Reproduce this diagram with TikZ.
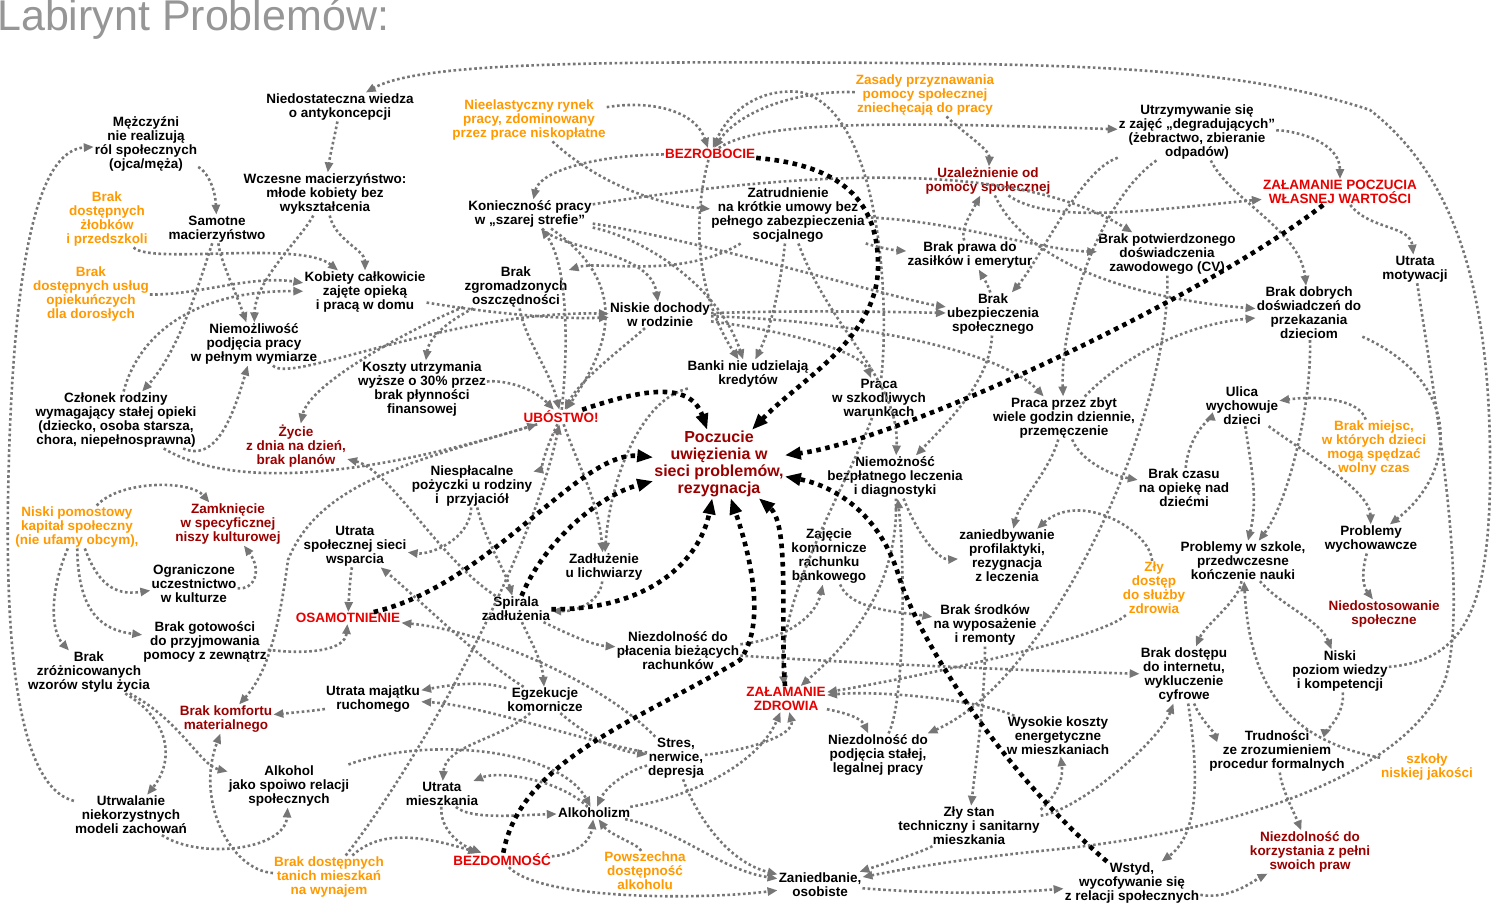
\documentclass[tikz,border=0pt]{standalone}
\usepackage{fontspec}
\setmainfont{Liberation Sans}
\usetikzlibrary{arrows.meta}
\definecolor{orng}{RGB}{255,153,0}
\definecolor{rd}{RGB}{230,0,0}
\definecolor{drd}{RGB}{153,0,0}
\definecolor{eg}{RGB}{118,118,118}
\definecolor{tg}{RGB}{150,150,150}
\begin{document}
\begin{tikzpicture}[x=1pt,y=-1pt,
  lb/.style={font=\bfseries\fontsize{13.5}{14}\selectfont, align=center, inner sep=1pt, text=black},
  lo/.style={lb,text=orng},
  lr/.style={lb,text=rd},
  ld/.style={lb,text=drd},
  ge/.style={draw=eg, line width=2.6pt, dash pattern=on 2.6pt off 2.6pt, -{Triangle[length=10pt,width=8pt]}},
  te/.style={draw=black, line width=4.6pt, dash pattern=on 4.6pt off 4.6pt, -{Triangle[length=16pt,width=12pt]}},
]
\useasboundingbox (0,0) rectangle (1508,923);
\node[anchor=base west, inner sep=0, text=tg, font=\fontsize{43}{46}\selectfont] (title) at (-3,31) {Labirynt Problemów:};

\node[lb] (antyk) at (340,107) {Niedostateczna wiedza\\o antykoncepcji};
\node[lb] (mezcz) at (146,144) {Mężczyźni\\nie realizują\\ról społecznych\\(ojca/męża)};
\node[lo] (nieelast) at (529,120) {Nieelastyczny rynek\\pracy, zdominowany\\przez prace niskopłatne};
\node[lo] (zasady) at (925,95) {Zasady przyznawania\\pomocy społecznej\\zniechęcają do pracy};
\node[lb] (utrzym) at (1197,132) {Utrzymywanie się\\z zajęć „degradujących”\\(żebractwo, zbieranie\\odpadów)};
\node[lr] (bezrob) at (710,154) {BEZROBOCIE};
\node[lb] (wczesne) at (325,194) {Wczesne macierzyństwo:\\młode kobiety bez\\wykształcenia};
\node[lo] (zlob) at (107,219) {Brak\\dostępnych\\żłobków\\i przedszkoli};
\node[lb] (samotne) at (217,229) {Samotne\\macierzyństwo};
\node[lb] (koniecz) at (530,214) {Konieczność pracy\\w „szarej strefie”};
\node[lb] (zatrud) at (788,215) {Zatrudnienie\\na krótkie umowy bez\\pełnego zabezpieczenia\\socjalnego};
\node[ld] (uzalez) at (988,181) {Uzależnienie od\\pomocy społecznej};
\node[lr] (zalpocz) at (1340,192) {ZAŁAMANIE POCZUCIA\\WŁASNEJ WARTOŚCI};
\node[lb] (brakcv) at (1167,254) {Brak potwierdzonego\\doświadczenia\\zawodowego (CV)};
\node[lb] (brakprawa) at (970,255) {Brak prawa do\\zasiłków i emerytur};
\node[lb] (utrmot) at (1415,269) {Utrata\\motywacji};
\node[lo] (brakusl) at (91,294) {Brak\\dostępnych usług\\opiekuńczych\\dla dorosłych};
\node[lb] (kobiety) at (365,292) {Kobiety całkowicie\\zajęte opieką\\i pracą w domu};
\node[lb] (brakzgr) at (516,287) {Brak\\zgromadzonych\\oszczędności};
\node[lb] (niskie) at (660,315) {Niskie dochody\\w rodzinie};
\node[lb] (brakubezp) at (993,314) {Brak\\ubezpieczenia\\społecznego};
\node[lb] (brakdobr) at (1309,313) {Brak dobrych\\doświadczeń do\\przekazania\\dzieciom};
\node[lb] (niemozl) at (254,344) {Niemożliwość\\podjęcia pracy\\w pełnym wymiarze};
\node[lb] (koszty) at (422,389) {Koszty utrzymania\\wyższe o 30\% przez\\brak płynności\\finansowej};
\node[lb] (banki) at (748,374) {Banki nie udzielają\\kredytów};
\node[lb] (prszk) at (879,398) {Praca\\w szkodliwych\\warunkach};
\node[lb] (pracazbyt) at (1064,418) {Praca przez zbyt\\wiele godzin dziennie,\\przemęczenie};
\node[lb] (czlonek) at (116,420) {Członek rodziny\\wymagający stałej opieki\\(dziecko, osoba starsza,\\chora, niepełnosprawna)};
\node[ld] (zycie) at (296,446) {Życie\\z dnia na dzień,\\brak planów};
\node[lr] (ubostwo) at (561,417) {UBÓSTWO!};
\node[ld, font=\bfseries\fontsize{16}{17}\selectfont] (poczucie) at (719,464) {Poczucie\\uwięzienia w\\sieci problemów,\\rezygnacja};
\node[lb] (ulica) at (1242,406) {Ulica\\wychowuje\\dzieci};
\node[lo] (brakmiejsc) at (1374,448) {Brak miejsc,\\w których dzieci\\mogą spędzać\\wolny czas};
\node[lb] (niesplac) at (472,486) {Niespłacalne\\pożyczki u rodziny\\i\ \ przyjaciół};
\node[lb] (niemozlecz) at (895,477) {Niemożność\\bezpłatnego leczenia\\i diagnostyki};
\node[lb] (brakczasu) at (1184,488) {Brak czasu\\na opiekę nad\\dziećmi};
\node[lo] (niskipom) at (77,527) {Niski pomostowy\\kapitał społeczny\\(nie ufamy obcym),};
\node[ld] (zamkn) at (228,524) {Zamknięcie\\w specyficznej\\niszy kulturowej};
\node[lb] (utrsieci) at (355,546) {Utrata\\społecznej sieci\\wsparcia};
\node[lb] (zadluz) at (604,567) {Zadłużenie\\u lichwiarzy};
\node[lb] (zajecie) at (829,556) {Zajęcie\\komornicze\\rachunku\\bankowego};
\node[lb] (zaniedb) at (1007,556) {zaniedbywanie\\profilaktyki,\\rezygnacja\\z leczenia};
\node[lo] (zlydost) at (1154,588) {Zły\\dostęp\\do służby\\zdrowia};
\node[lb] (problszk) at (1243,561) {Problemy w szkole,\\przedwczesne\\kończenie nauki};
\node[lb] (problwych) at (1371,539) {Problemy\\wychowawcze};
\node[lb] (ogr) at (194,584) {Ograniczone\\uczestnictwo\\w kulturze};
\node[lr] (osam) at (348,618) {OSAMOTNIENIE};
\node[lb] (spirala) at (516,609) {Spirala\\zadłużenia};
\node[ld] (niedost) at (1384,614) {Niedostosowanie\\społeczne};
\node[lb] (brakgot) at (205,642) {Brak gotowości\\do przyjmowania\\pomocy z zewnątrz};
\node[lb] (braksrod) at (985,625) {Brak środków\\na wyposażenie\\i remonty};
\node[lb] (niezdrach) at (678,651) {Niezdolność do\\płacenia bieżących\\rachunków};
\node[lb] (brakzroz) at (89,672) {Brak\\zróżnicowanych\\wzorów stylu życia};
\node[lb] (brakint) at (1184,675) {Brak dostępu\\do internetu,\\wykluczenie\\cyfrowe};
\node[lb] (niskipoz) at (1340,671) {Niski\\poziom wiedzy\\i kompetencji};
\node[lb] (utrmaj) at (373,699) {Utrata majątku\\ruchomego};
\node[lb] (egzek) at (545,700) {Egzekucje\\komornicze};
\node[lr] (zalzdr) at (786,699) {ZAŁAMANIE\\ZDROWIA};
\node[ld] (brakkomf) at (226,719) {Brak komfortu\\materialnego};
\node[lb] (wysokie) at (1058,736) {Wysokie koszty\\energetyczne\\w mieszkaniach};
\node[lb] (niezdpodj) at (878,755) {Niezdolność do\\podjęcia stałej,\\legalnej pracy};
\node[lb] (stres) at (676,758) {Stres,\\nerwice,\\depresja};
\node[lb] (trudn) at (1277,751) {Trudności\\ze zrozumieniem\\procedur formalnych};
\node[lo] (szkoly) at (1427,767) {szkoły\\niskiej jakości};
\node[lb] (alksp) at (289,786) {Alkohol\\jako spoiwo relacji\\społecznych};
\node[lb] (utrmieszk) at (442,794) {Utrata\\mieszkania};
\node[lb] (utrwal) at (131,815) {Utrwalanie\\niekorzystnych\\modeli zachowań};
\node[lb] (alkoholizm) at (594,813) {Alkoholizm};
\node[lb] (zlystan) at (969,826) {Zły stan\\techniczny i sanitarny\\mieszkania};
\node[ld] (niezdkor) at (1310,852) {Niezdolność do\\korzystania z pełni\\swoich praw};
\node[lo] (brakdosttan) at (329,877) {Brak dostępnych\\tanich mieszkań\\na wynajem};
\node[lr] (bezdom) at (502,860) {BEZDOMNOŚĆ};
\node[lo] (powsz) at (645,871) {Powszechna\\dostępność\\alkoholu};
\node[lb] (zaniedbanie) at (820,885) {Zaniedbanie,\\osobiste};
\node[lb] (wstyd) at (1132,883) {Wstyd,\\wycofywanie się\\z relacji społecznych};

% grey connectors
\draw[ge] (utrwal) .. controls (30,790) and (5,700) .. (8,500) .. controls (12,250) and (40,150) .. (mezcz);
\draw[ge] (niskipoz) .. controls (1470,660) and (1492,600) .. (1490,450) .. controls (1488,300) and (1460,180) .. (1370,110) .. controls (1250,70) and (1100,65) .. (900,63) .. controls (600,61) and (420,62) .. (antyk);
\draw[ge] (mezcz) .. controls (205,170) and (215,185) .. (samotne);
\draw[ge] (antyk) .. controls (335,135) and (330,155) .. (wczesne);
\draw[ge] (wczesne) .. controls (300,240) and (255,280) .. (niemozl);
\draw[ge] (samotne) .. controls (220,260) and (235,290) .. (niemozl);
\draw[ge] (wczesne) .. controls (335,240) and (365,250) .. (kobiety);
\draw[ge] (zlob) .. controls (150,265) and (300,240) .. (kobiety);
\draw[ge] (brakusl) .. controls (200,295) and (250,275) .. (kobiety);
\draw[ge] (czlonek) .. controls (140,330) and (200,290) .. (kobiety);
\draw[ge] (samotne) .. controls (200,280) and (180,350) .. (czlonek);
\draw[ge] (czlonek) .. controls (215,462) and (232,420) .. (niemozl);
\draw[ge] (niemozl) .. controls (290,385) and (450,310) .. (niskie);
\draw[ge] (kobiety) .. controls (470,310) and (550,320) .. (niskie);
\draw[ge] (brakzgr) .. controls (430,320) and (310,380) .. (zycie);
\draw[ge] (czlonek) .. controls (250,500) and (420,460) .. (ubostwo);
\draw[ge] (spirala) .. controls (440,560) and (390,470) .. (zycie);
\draw[ge] (niskipom) .. controls (120,480) and (190,480) .. (zamkn);
\draw[ge] (niskipom) .. controls (100,590) and (120,595) .. (ogr);
\draw[ge] (ogr) .. controls (255,590) and (262,570) .. (zamkn);
\draw[ge] (niskipom) .. controls (50,590) and (50,630) .. (brakzroz);
\draw[ge] (niskipom) .. controls (78,610) and (100,630) .. (brakgot);
\draw[ge] (brakgot) .. controls (310,655) and (345,650) .. (osam);
\draw[ge] (utrsieci) .. controls (350,580) and (349,595) .. (osam);
\draw[ge] (niesplac) .. controls (470,540) and (430,555) .. (utrsieci);
\draw[ge] (egzek) .. controls (480,660) and (420,600) .. (utrsieci);
\draw[ge] (stres) .. controls (600,680) and (480,630) .. (osam);
\draw[ge] (brakzgr) .. controls (525,340) and (550,370) .. (ubostwo);
\draw[ge] (koszty) .. controls (500,380) and (530,385) .. (ubostwo);
\draw[ge] (niskie) .. controls (620,350) and (580,380) .. (ubostwo);
\draw[ge] (koniecz) .. controls (640,290) and (600,360) .. (ubostwo);
\draw[ge] (ubostwo) .. controls (580,470) and (598,500) .. (zadluz);
\draw[ge] (banki) .. controls (640,400) and (610,480) .. (zadluz);
\draw[ge] (ubostwo) .. controls (545,450) and (540,470) .. (niesplac);
\draw[ge] (niesplac) .. controls (485,540) and (505,570) .. (spirala);
\draw[ge] (zadluz) .. controls (600,600) and (580,612) .. (spirala);
\draw[ge] (spirala) .. controls (560,630) and (590,645) .. (niezdrach);
\draw[ge] (spirala) .. controls (530,640) and (542,660) .. (egzek);
\draw[ge] (egzek) .. controls (480,680) and (450,685) .. (utrmaj);
\draw[ge] (stres) .. controls (580,740) and (480,705) .. (utrmaj);
\draw[ge] (utrmaj) .. controls (320,710) and (300,712) .. (brakkomf);
\draw[ge] (ubostwo) .. controls (420,460) and (320,480) .. (288,560) .. controls (280,620) and (270,670) .. (brakkomf);
\draw[ge] (brakdosttan) .. controls (230,870) and (195,800) .. (brakkomf);
\draw[ge] (brakzroz) .. controls (170,720) and (175,760) .. (utrwal);
\draw[ge] (brakzroz) .. controls (180,720) and (200,765) .. (alksp);
\draw[ge] (utrwal) .. controls (200,860) and (285,850) .. (alksp);
\draw[ge] (alksp) .. controls (430,735) and (560,750) .. (alkoholizm);
\draw[ge] (brakdosttan) .. controls (420,760) and (530,560) .. (ubostwo);
\draw[ge] (brakdosttan) .. controls (380,830) and (420,835) .. (bezdom);
\draw[ge] (utrmieszk) .. controls (440,830) and (460,845) .. (bezdom);
\draw[ge] (utrmieszk) .. controls (470,820) and (520,815) .. (alkoholizm);
\draw[ge] (egzek) .. controls (500,740) and (445,745) .. (utrmieszk);
\draw[ge] (alkoholizm) .. controls (560,780) and (500,770) .. (utrmieszk);
\draw[ge] (bezdom) .. controls (570,855) and (590,845) .. (alkoholizm);
\draw[ge] (powsz) .. controls (640,845) and (610,835) .. (alkoholizm);
\draw[ge] (bezdom) .. controls (540,900) and (700,900) .. (zaniedbanie);
\draw[ge] (alkoholizm) .. controls (680,830) and (720,870) .. (zaniedbanie);
\draw[ge] (alkoholizm) .. controls (700,795) and (760,760) .. (zalzdr);
\draw[ge] (stres) .. controls (750,750) and (795,735) .. (zalzdr);
\draw[ge] (stres) .. controls (690,800) and (720,860) .. (zaniedbanie);
\draw[ge] (egzek) .. controls (580,730) and (610,750) .. (stres);
\draw[ge] (stres) .. controls (630,770) and (607,785) .. (alkoholizm);
\draw[ge] (zalzdr) .. controls (830,710) and (860,715) .. (niezdpodj);
\draw[ge] (wysokie) .. controls (980,700) and (880,690) .. (zalzdr);
\draw[ge] (zlydost) .. controls (1100,640) and (900,680) .. (zalzdr);
\draw[ge] (niemozlecz) .. controls (900,600) and (830,660) .. (zalzdr);
\draw[ge] (prszk) .. controls (850,480) and (775,600) .. (zalzdr);
\draw[ge] (braksrod) .. controls (985,700) and (975,770) .. (zlystan);
\draw[ge] (brakcv) .. controls (1170,420) and (1050,680) .. (niezdpodj);
\draw[ge] (zlystan) .. controls (920,853) and (880,865) .. (zaniedbanie);
\draw[ge] (zaniedbanie) .. controls (950,895) and (1010,893) .. (wstyd);
\draw[ge] (wstyd) .. controls (1230,900) and (1255,880) .. (niezdkor);
\draw[ge] (zlystan) .. controls (1080,810) and (1160,740) .. (brakint);
\draw[ge] (zlystan) .. controls (1040,810) and (1065,790) .. (wysokie);
\draw[ge] (brakint) .. controls (1200,720) and (1220,738) .. (trudn);
\draw[ge] (niskipoz) .. controls (1345,710) and (1330,730) .. (trudn);
\draw[ge] (trudn) .. controls (1282,790) and (1293,810) .. (niezdkor);
\draw[ge] (problszk) .. controls (1240,600) and (1205,625) .. (brakint);
\draw[ge] (problszk) .. controls (1280,605) and (1320,620) .. (niskipoz);
\draw[ge] (szkoly) .. controls (1290,740) and (1250,690) .. (problszk);
\draw[ge] (brakint) .. controls (1195,750) and (1205,830) .. (wstyd);
\draw[ge] (zlydost) .. controls (1150,530) and (1080,490) .. (zaniedb);
\draw[ge] (pracazbyt) .. controls (1050,470) and (1020,500) .. (zaniedb);
\draw[ge] (brakczasu) .. controls (1188,440) and (1205,420) .. (ulica);
\draw[ge] (pracazbyt) .. controls (1080,460) and (1110,475) .. (brakczasu);
\draw[ge] (brakmiejsc) .. controls (1360,400) and (1320,395) .. (ulica);
\draw[ge] (ulica) .. controls (1252,470) and (1258,500) .. (problszk);
\draw[ge] (ulica) .. controls (1300,450) and (1370,490) .. (problwych);
\draw[ge] (brakdobr) .. controls (1312,400) and (1290,500) .. (problszk);
\draw[ge] (brakdobr) .. controls (1460,380) and (1460,470) .. (problwych);
\draw[ge] (problwych) .. controls (1362,570) and (1362,585) .. (niedost);
\draw[ge] (zalpocz) .. controls (1370,230) and (1410,225) .. (utrmot);
\draw[ge] (utrzym) .. controls (1230,200) and (1300,230) .. (brakdobr);
\draw[ge] (uzalez) .. controls (1050,225) and (1150,210) .. (zalpocz);
\draw[ge] (uzalez) .. controls (1030,270) and (1150,300) .. (brakdobr);
\draw[ge] (zatrud) .. controls (950,220) and (1040,250) .. (brakcv);
\draw[ge] (zatrud) .. controls (870,245) and (890,250) .. (brakprawa);
\draw[ge] (brakprawa) .. controls (960,230) and (970,215) .. (uzalez);
\draw[ge] (brakubezp) .. controls (990,290) and (985,280) .. (brakprawa);
\draw[ge] (utrzym) .. controls (1080,170) and (1040,260) .. (brakubezp);
\draw[ge] (utrzym) .. controls (1100,200) and (1060,320) .. (pracazbyt);
\draw[ge] (niskie) .. controls (850,320) and (1000,350) .. (pracazbyt);
\draw[ge] (niskie) .. controls (800,310) and (900,312) .. (brakubezp);
\draw[ge] (pracazbyt) .. controls (1120,360) and (1180,325) .. (brakdobr);
\draw[ge] (bezrob) .. controls (600,155) and (540,170) .. (koniecz);
\draw[ge] (nieelast) .. controls (600,185) and (660,205) .. (zatrud);
\draw[ge] (koniecz) .. controls (750,180) and (1000,150) .. (brakcv);
\draw[ge] (koniecz) .. controls (650,240) and (720,290) .. (banki);
\draw[ge] (koniecz) .. controls (560,250) and (650,250) .. (niskie);
\draw[ge] (ubostwo) .. controls (570,330) and (565,260) .. (koniecz);
\draw[ge] (zatrud) .. controls (680,280) and (600,260) .. (brakzgr);
\draw[ge] (bezrob) .. controls (690,230) and (700,300) .. (banki);
\draw[ge] (zatrud) .. controls (780,290) and (770,330) .. (banki);
\draw[ge] (zatrud) .. controls (830,330) and (900,380) .. (niemozlecz);
\draw[ge] (brakubezp) .. controls (990,380) and (950,420) .. (niemozlecz);
\draw[ge] (niskie) .. controls (780,330) and (860,350) .. (prszk);
\draw[ge] (brakzgr) .. controls (470,310) and (430,330) .. (koszty);
\draw[ge] (nieelast) .. controls (650,100) and (695,110) .. (bezrob);
\draw[ge] (zasady) .. controls (800,90) and (740,110) .. (bezrob);
\draw[ge] (prszk) .. controls (890,300) and (880,110) .. (800,92) .. controls (760,88) and (730,110) .. (bezrob);
\draw[ge] (bezrob) .. controls (760,120) and (900,122) .. (utrzym);
\draw[ge] (utrzym) .. controls (1290,130) and (1340,140) .. (zalpocz);
\draw[ge] (koniecz) .. controls (700,240) and (900,300) .. (brakubezp);
\draw[ge] (zasady) .. controls (960,130) and (990,150) .. (uzalez);
\draw[ge] (niezdpodj) .. controls (905,700) and (905,560) .. (niemozlecz);
\draw[ge] (niemozlecz) .. controls (920,540) and (940,560) .. (zaniedb);
\draw[ge] (niezdrach) .. controls (780,640) and (815,620) .. (zajecie);
\draw[ge] (zajecie) .. controls (850,610) and (900,612) .. (braksrod);
\draw[ge] (niezdrach) .. controls (800,660) and (1000,670) .. (brakint);
\draw[ge] (utrmot) .. controls (1435,400) and (1470,600) .. (1445,680) .. controls (1410,770) and (1250,830) .. (1050,850) .. controls (950,860) and (900,870) .. (zaniedbanie);

% thick connectors
\draw[te] (bezrob) .. controls (840,165) and (880,200) .. (878,270) .. controls (875,340) and (800,380) .. (poczucie);
\draw[te] (ubostwo) .. controls (640,390) and (690,380) .. (poczucie);
\draw[te] (zalpocz) .. controls (1200,300) and (900,440) .. (poczucie);
\draw[te] (osam) .. controls (490,585) and (580,450) .. (poczucie);
\draw[te] (spirala) .. controls (545,540) and (600,495) .. (poczucie);
\draw[te] (spirala) .. controls (650,610) and (700,560) .. (poczucie);
\draw[te] (bezdom) .. controls (520,760) and (640,720) .. (740,660) .. controls (770,620) and (745,540) .. (poczucie);
\draw[te] (zalzdr) .. controls (780,620) and (790,525) .. (poczucie);
\draw[te] (wstyd) .. controls (1000,770) and (920,640) .. (900,580) .. controls (880,510) and (830,485) .. (poczucie);
\end{tikzpicture}
\end{document}
